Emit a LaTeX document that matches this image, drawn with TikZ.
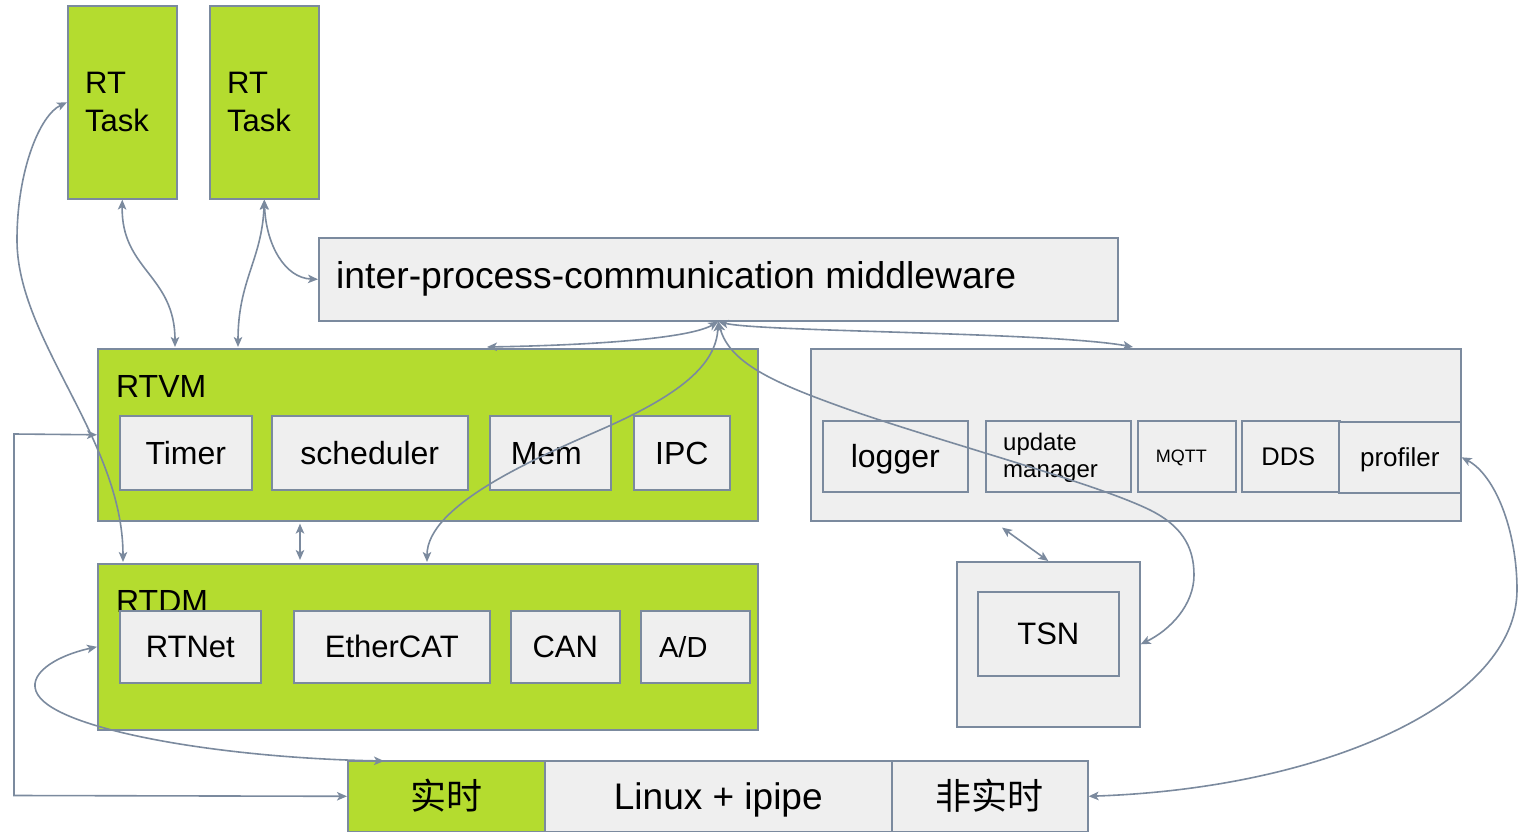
\documentclass[tikz,border=0pt]{standalone}
\usepackage{fontspec}
\setmainfont{Liberation Sans}
\newfontfamily\cjk{Noto Sans CJK SC}
\usetikzlibrary{arrows.meta,calc}
\definecolor{edgec}{HTML}{7B8A9E}
\definecolor{grn}{HTML}{B4DC2F}
\definecolor{lgray}{HTML}{EFEFEF}
\tikzset{
  box/.style={draw=edgec, line width=1.6pt, inner sep=0pt, anchor=north west, text depth=0pt},
  gbox/.style={box, fill=grn},
  wbox/.style={box, fill=lgray},
  lbl/.style={inner sep=0pt, anchor=base west},
  ft/.code={\pgfmathsetlengthmacro\mythh{0.72*#1pt}%
    \edef\myftcmd{\noexpand\tikzset{font=\noexpand\fontsize{#1}{#1}\noexpand\selectfont, text height=\mythh}}\myftcmd},
  conn/.style={draw=edgec, line width=1.6pt, {Stealth[length=10pt,width=8.5pt,inset=2.5pt]}-{Stealth[length=10pt,width=8.5pt,inset=2.5pt]}},
}
\begin{document}
\begin{tikzpicture}[x=1pt,y=-1pt]
\useasboundingbox (0,0) rectangle (1519,832);
% RT tasks
\node[gbox, minimum width=109, minimum height=193] (t1) at (67,5) {};
\node[gbox, minimum width=109, minimum height=193] (t2) at (209,5) {};
\node[lbl, font=\fontsize{31}{37}\selectfont] (t1a) at (85,94) {RT};
\node[lbl, font=\fontsize{31}{37}\selectfont] (t1b) at (85,132) {Task};
\node[lbl, font=\fontsize{31}{37}\selectfont] (t2a) at (227,94) {RT};
\node[lbl, font=\fontsize{31}{37}\selectfont] (t2b) at (227,132) {Task};
% middleware
\node[wbox, minimum width=799, minimum height=83] (mw) at (318,237) {};
\node[lbl, font=\fontsize{37.3}{44}\selectfont] (mwl) at (336,288) {inter-process-communication middleware};
% RTVM
\node[gbox, minimum width=660, minimum height=172] (rtvm) at (97,348) {};
\node[lbl, font=\fontsize{32}{38}\selectfont] (rtvml) at (116,397) {RTVM};
\node[wbox, ft=32, minimum width=132, minimum height=74] (timer) at (119,415) {Timer};
\node[wbox, ft=32, minimum width=196, minimum height=74] (sched) at (271,415) {scheduler};
\node[wbox, ft=32, minimum width=121, minimum height=74] (mem) at (489,415) {Mem\kern8pt};
\node[wbox, ft=32, minimum width=96, minimum height=74] (ipc) at (633,415) {IPC};
% RTDM
\node[gbox, minimum width=660, minimum height=166] (rtdm) at (97,563) {};
\node[lbl, font=\fontsize{32}{38}\selectfont] (rtdml) at (116,612) {RTDM};
\node[wbox, ft=31, minimum width=141, minimum height=72] (rtnet) at (119,610) {RTNet};
\node[wbox, ft=31, minimum width=196, minimum height=72] (ecat) at (293,610) {EtherCAT};
\node[wbox, ft=31, minimum width=109, minimum height=72] (can) at (510,610) {CAN};
\node[wbox, ft=29, minimum width=109, minimum height=72] (ad) at (640,610) {A/D\kern24pt};
% right container
\node[wbox, minimum width=650, minimum height=172] (rc) at (810,348) {};
\node[wbox, ft=32, minimum width=145, minimum height=71] (logger) at (822,420) {logger};
\node[wbox, minimum width=145, minimum height=71] (upd) at (985,420) {};
\node[lbl, font=\fontsize{24}{26}\selectfont] (upda) at (1003,450) {update};
\node[lbl, font=\fontsize{24}{26}\selectfont] (updb) at (1003,477) {manager};
\node[wbox, ft=18, minimum width=98, minimum height=71] (mqtt) at (1137,420) {MQTT\kern11pt};
\node[wbox, ft=25.5, minimum width=98, minimum height=71] (dds) at (1241,420) {DDS\kern5pt};
\node[wbox, ft=26, minimum width=122, minimum height=71] (prof) at (1338,421) {profiler};
% TSN
\node[wbox, minimum width=183, minimum height=165] (tsno) at (956,561) {};
\node[wbox, ft=31, minimum width=141, minimum height=84] (tsn) at (977,591) {TSN};
% bottom
\node[gbox, ft=36, minimum width=197, minimum height=71] (rt) at (347,760) {\cjk 实时};
\node[wbox, ft=37, minimum width=347, minimum height=71] (lin) at (544,760) {Linux + ipipe};
\node[wbox, ft=36, minimum width=196, minimum height=71] (nrt) at (891,760) {\cjk 非实时};
% connectors
\coordinate (lc1) at (14,434);
\coordinate (lc2) at (14,795.5);
\draw[conn] (t1.south) .. controls (121,270) and (175,275) .. ($(rtvm.north west)+(78,-1)$);
\draw[conn] (t2.south) .. controls (262,260) and (238,280) .. ($(rtvm.north west)+(141,-1)$);
\draw[conn] (t2.south) .. controls (266,245) and (285,278) .. (mw.west);
\draw[conn] (t1.west) .. controls (40,115) and (17,170) .. (17,240) .. controls (17,340) and (123,440) .. ($(rtdm.north west)+(26,-1)$);
\draw[conn] (rtvm.west) -- (lc1) -- (lc2) -- (rt.west);
\draw[conn] ($(rtvm.south west)+(203,2)$) -- ($(rtdm.north west)+(203,-3)$);
\draw[conn] (mw.south) .. controls (690,338) and (600,345) .. ($(rtvm.north west)+(390,-1)$);
\draw[conn] (mw.south) .. controls (760,332) and (1050,332) .. ($(rc.north west)+(323,-1)$);
\draw[conn] (mw.south) .. controls (716,365) and (680,395) .. (600,430) .. controls (536,458) and (427,505) .. ($(rtdm.north west)+(330,-1)$);
\draw[conn] (mw.south) .. controls (730,365) and (780,385) .. (850,410) .. controls (945,443) and (1095,483) .. (1150,510) .. controls (1180,525) and (1194,545) .. (1194,575) .. controls (1194,605) and (1170,630) .. (tsno.east);
\draw[conn] ($(rc.south west)+(192,6)$) -- (tsno.north);
\draw[conn] (nrt.east) .. controls (1330,788) and (1517,700) .. (1517,590) .. controls (1517,530) and (1495,475) .. (prof.east);
\draw[conn] (rtdm.west) .. controls (55,656) and (25,675) .. (38,695) .. controls (60,730) and (220,758) .. ($(rt.north west)+(37,1)$);
\end{tikzpicture}
\end{document}
